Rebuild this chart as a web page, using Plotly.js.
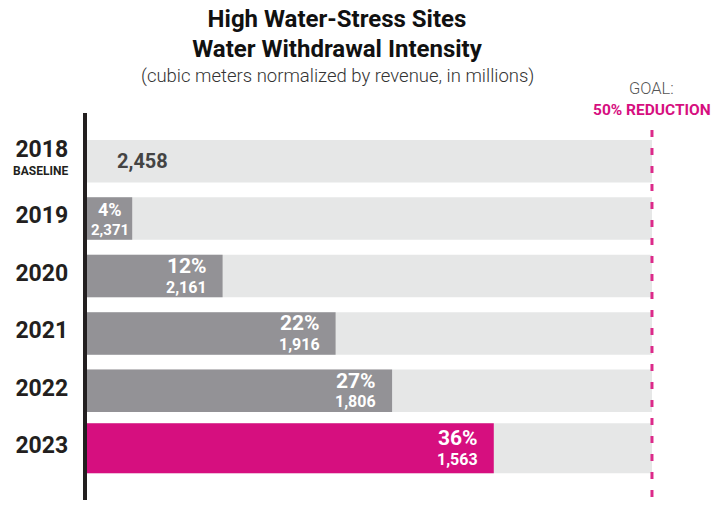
<!DOCTYPE html>
<html>
<head>
<meta charset="utf-8">
<script src="https://cdn.plot.ly/plotly-3.0.1.min.js"></script>
<style>html,body{margin:0;padding:0;background:#fff;}#chart{width:713px;height:505px;}</style>
</head>
<body>
<div id="chart"></div>
<script>
const years = ['2018', '2019', '2020', '2021', '2022', '2023'];
const yearTickText = ['<span style="font-size:23px">2018</span><br><span style="font-size:12px">BASELINE</span>',
  '<span style="font-size:23px">2019</span>', '<span style="font-size:23px">2020</span>',
  '<span style="font-size:23px">2021</span>', '<span style="font-size:23px">2022</span>',
  '<span style="font-size:23px">2023</span>'];
const intensity = [2458, 2371, 2161, 1916, 1806, 1563];
const reductionPct = [0, 4, 12, 22, 27, 36];
const goalPct = 50;

const GRAY = '#939296', LIGHT = '#e6e7e7', PINK = '#d60f7f';
const last = years.length - 1;
const widths = years.map((y, i) => i === last ? 0.87 : 0.74);

const bgTrace = {
  type: 'bar', orientation: 'h', y: years, x: years.map(() => goalPct),
  marker: {color: LIGHT}, width: widths, hoverinfo: 'skip', showlegend: false
};
const redTrace = {
  type: 'bar', orientation: 'h', y: years, x: reductionPct,
  marker: {color: years.map((y, i) => i === last ? PINK : GRAY)},
  width: widths, hoverinfo: 'skip', showlegend: false
};

const fmt = v => v.toLocaleString('en-US');
const pyToPaper = py => (500 - py) / 387;
const annotations = [];
years.forEach((y, i) => {
  const p = reductionPct[i];
  if (p === 0) {
    annotations.push({xref: 'x', yref: 'y', x: 0, y: i, xanchor: 'left', yanchor: 'middle', xshift: 28,
      text: '<b>' + fmt(intensity[i]) + '</b>', showarrow: false,
      font: {family: 'Roboto', size: 20, color: '#444444'}});
  } else {
    const narrow = p < 8;
    const xa = narrow ? p / 2 : p;
    const anchor = narrow ? 'center' : 'right';
    const xs = narrow ? 0 : -14;
    annotations.push({xref: 'x', yref: 'y', x: xa, y: i, xanchor: anchor, yanchor: 'middle', xshift: xs, yshift: narrow ? 9 : 10,
      text: '<b>' + p + '%</b>', showarrow: false,
      font: {family: 'Roboto', size: narrow ? 18 : 21, color: '#ffffff'}});
    annotations.push({xref: 'x', yref: 'y', x: xa, y: i, xanchor: anchor, yanchor: 'middle', xshift: xs, yshift: -11,
      text: '<b>' + fmt(intensity[i]) + '</b>', showarrow: false,
      font: {family: 'Roboto', size: narrow ? 15 : 16, color: '#ffffff'}});
  }
});

annotations.push({xref: 'paper', yref: 'paper', x: (337 - 87) / 613, y: pyToPaper(76), xanchor: 'center', yanchor: 'middle',
  text: '(cubic meters normalized by revenue, in millions)', showarrow: false,
  font: {family: 'Roboto', size: 18.5, color: '#333333', weight: 300}});
annotations.push({xref: 'x', yref: 'paper', x: goalPct, y: pyToPaper(88), xanchor: 'center', yanchor: 'middle',
  text: 'GOAL:', showarrow: false,
  font: {family: 'Roboto', size: 16.5, color: '#555555', weight: 300}});
annotations.push({xref: 'x', yref: 'paper', x: goalPct, y: pyToPaper(110), xanchor: 'center', yanchor: 'middle',
  text: '<b>50% REDUCTION</b>', showarrow: false,
  font: {family: 'Roboto', size: 15.5, color: PINK}});

const layout = {
  width: 713, height: 505,
  margin: {l: 87, r: 13, t: 113, b: 5},
  paper_bgcolor: '#ffffff', plot_bgcolor: '#ffffff',
  barmode: 'overlay',
  showlegend: false,
  title: {
    text: '<span style="font-size:24px"><b>High Water-Stress Sites</b></span><br><span style="font-size:24px"><b>Water Withdrawal Intensity</b></span>',
    xref: 'container', yref: 'container', x: 337 / 713, y: 1 - 27 / 505, xanchor: 'center', yanchor: 'top',
    font: {family: 'Roboto', size: 23, color: '#111111'}
  },
  xaxis: {range: [0, 54.25], visible: false, fixedrange: true},
  yaxis: {
    type: 'category', categoryorder: 'array', categoryarray: years,
    tickvals: years, ticktext: yearTickText,
    range: [5.90, -0.838],
    showline: true, linewidth: 4, linecolor: '#231f20',
    showgrid: false, zeroline: false, ticks: '',
    ticklabelstandoff: 12,
    tickfont: {family: 'Roboto', size: 14, color: '#231f20', weight: 'bold'},
    fixedrange: true
  },
  shapes: [{
    type: 'line', xref: 'x', yref: 'paper', x0: goalPct, x1: goalPct,
    y0: pyToPaper(497), y1: pyToPaper(130),
    line: {color: '#dc2a8a', width: 3, dash: '7px,11px'}, layer: 'above'
  }],
  annotations: annotations
};

Plotly.newPlot('chart', [bgTrace, redTrace], layout, {displayModeBar: false, staticPlot: true});
</script>
</body>
</html>
